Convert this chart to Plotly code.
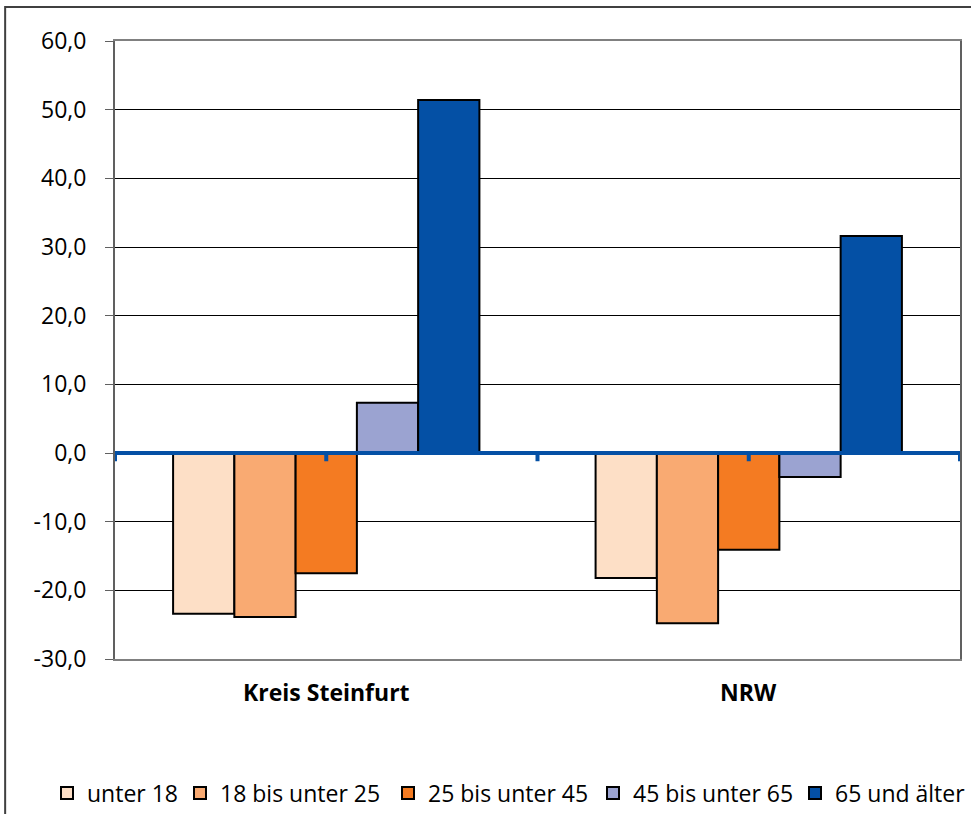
import plotly.graph_objects as go

regions = ["Kreis Steinfurt", "NRW"]
age_groups = ["unter 18", "18 bis unter 25", "25 bis unter 45", "45 bis unter 65", "65 und älter"]
kreis_steinfurt = [-23.4, -23.9, -17.5, 7.3, 51.4]
nrw = [-18.2, -24.8, -14.1, -3.5, 31.6]
colors = ["#FDDFC6", "#F9AA72", "#F47B22", "#9BA3D1", "#0450A5"]
y_ticks = [-30, -20, -10, 0, 10, 20, 30, 40, 50, 60]
y_ticktext = [("%.1f" % v).replace(".", ",") for v in y_ticks]

font_family = "Open Sans, sans-serif"
W, H = 971, 814
# where each legend entry's text starts (px from left), like the Excel legend
legend_text_x = [87, 220, 428, 633, 835]

fig = go.Figure()
for i, grp in enumerate(age_groups):
    lg = "legend" if i == 0 else "legend%d" % (i + 1)
    fig.add_trace(go.Bar(
        name=grp,
        x=[0, 1],
        y=[kreis_steinfurt[i], nrw[i]],
        legend=lg,
        marker=dict(color=colors[i], line=dict(color="black", width=2)),
    ))

# blue zero line with small tick marks (Excel-style category axis)
fig.add_shape(type="line", xref="x", yref="y", x0=-0.5, x1=1.5, y0=0, y1=0,
              line=dict(color="#0450A5", width=4), layer="above")
for xt in [-0.5, 0, 0.5, 1, 1.5]:
    fig.add_shape(type="line", xref="x", yref="y", x0=xt, x1=xt, y0=0, y1=-1.2,
                  line=dict(color="#0450A5", width=4), layer="above")

# category labels below the plot
for xi, name in enumerate(regions):
    fig.add_annotation(x=xi, y=-30, xref="x", yref="y", text="<b>%s</b>" % name,
                       showarrow=False, yshift=-33,
                       font=dict(family=font_family, size=23, color="black"))

# outer chart border (runs off the right and bottom edge like the original)
fig.add_shape(type="rect", xref="paper", yref="paper", x0=-0.13, x1=1.05, y0=-0.3, y1=1.055,
              line=dict(color="#404040", width=2))

legends = {}
for i, tx in enumerate(legend_text_x):
    key = "legend" if i == 0 else "legend%d" % (i + 1)
    legends[key] = dict(orientation="h", xref="container", yref="container",
                        x=(tx - 40) / W, xanchor="left", y=(H - 793) / H, yanchor="middle",
                        font=dict(family=font_family, size=23), itemwidth=30,
                        bgcolor="rgba(0,0,0,0)")

fig.update_layout(
    width=W,
    height=H,
    barmode="group",
    bargap=0.275,
    bargroupgap=0,
    plot_bgcolor="white",
    paper_bgcolor="white",
    margin=dict(l=115, r=11, t=41, b=155, autoexpand=False),
    font=dict(family=font_family, size=21, color="black"),
    showlegend=True,
    **legends,
)

fig.update_xaxes(
    range=[-0.5, 1.5],
    showticklabels=False,
    showgrid=False,
    zeroline=False,
    showline=True,
    linecolor="#808080",
    linewidth=2,
    mirror=True,
    ticks="",
    automargin=False,
)

fig.update_yaxes(
    range=[-30, 60],
    tickvals=y_ticks,
    ticktext=y_ticktext,
    showgrid=True,
    gridcolor="black",
    gridwidth=1,
    zeroline=False,
    showline=True,
    linecolor="#606060",
    linewidth=2,
    mirror=True,
    ticks="outside",
    ticklen=8,
    tickcolor="#606060",
    tickwidth=1,
    ticklabelstandoff=14,
    tickfont=dict(family=font_family, size=23),
    automargin=False,
)

# drop the default page margin so the figure sits at the window's top-left corner
fig.write_html("out.html", config={"displayModeBar": False},
               post_script="document.body.style.margin='0';")
